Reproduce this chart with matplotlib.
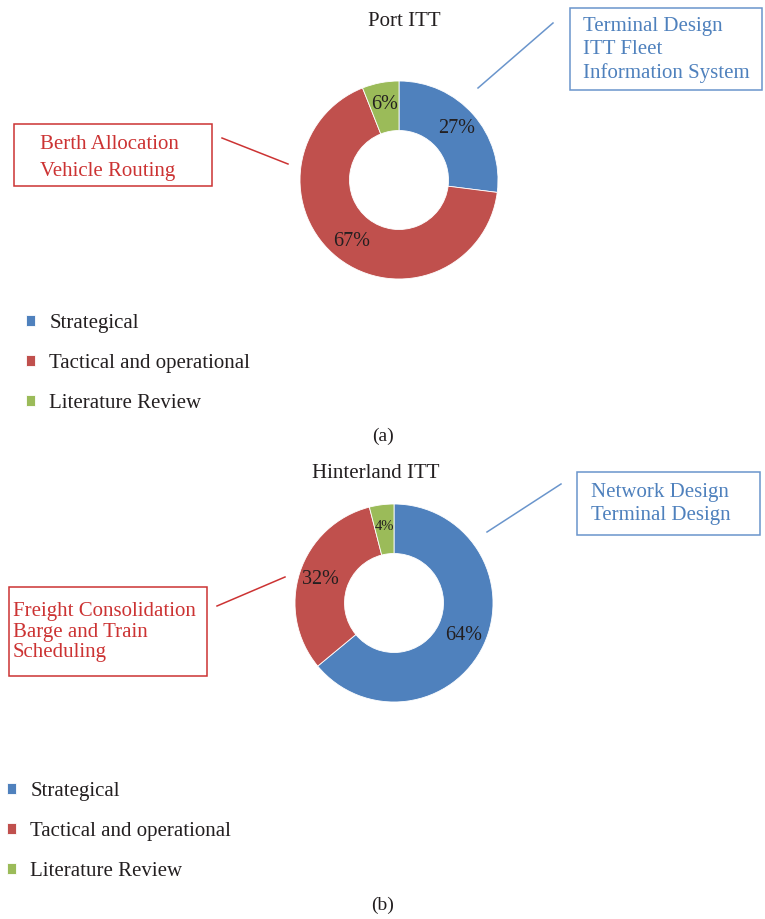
import matplotlib.pyplot as plt
from matplotlib.patches import Rectangle
from matplotlib.lines import Line2D

plt.rcParams['font.family'] = ['Liberation Serif', 'DejaVu Serif']

W, H = 765, 919

categories = ['Strategical', 'Tactical and operational', 'Literature Review']
colors = ['#4F81BD', '#C0504D', '#9BBB59']
port_values = [27, 67, 6]
hinter_values = [64, 32, 4]
port_left_notes = ['Berth Allocation', 'Vehicle Routing']
port_right_notes = ['Terminal Design', 'ITT Fleet', 'Information System']
hinter_left_notes = ['Freight Consolidation', 'Barge and Train', 'Scheduling']
hinter_right_notes = ['Network Design', 'Terminal Design']

RED_TXT = '#CC3333'
BLUE_TXT = '#4F81BD'
DARK = '#231F20'


def fx(x):
    return x / W


def fy(y):
    return 1 - y / H


fig = plt.figure(figsize=(W / 100, H / 100), dpi=100)


def donut(cx, cy, r, values, title, title_xy, small_idx=None):
    ax = fig.add_axes([fx(cx - r), fy(cy + r), 2 * r / W, 2 * r / H])
    wedges, _, autotexts = ax.pie(values, colors=colors, startangle=90, counterclock=False,
                                  autopct='%d%%', pctdistance=0.78,
                                  wedgeprops=dict(width=0.5, edgecolor='white', linewidth=0.6),
                                  textprops=dict(fontsize=14.5, color=DARK))
    if small_idx is not None:
        autotexts[small_idx].set_fontsize(10.5)
    ax.set_xlim(-1, 1)
    ax.set_ylim(-1, 1)
    ax.set_aspect('auto')
    ax.axis('off')
    fig.text(fx(title_xy[0]), fy(title_xy[1]), title, fontsize=15, color=DARK,
             ha='center', va='center')
    return ax, wedges


def callout(box, lines, text_xy, spacing, line_pts, color, edge):
    x0, y0, x1, y1 = box
    fig.add_artist(Rectangle((fx(x0), fy(y1)), (x1 - x0) / W, (y1 - y0) / H,
                             transform=fig.transFigure, fill=False, edgecolor=edge, linewidth=1.1))
    fig.text(fx(text_xy[0]), fy(text_xy[1]), '\n'.join(lines), fontsize=15, color=color,
             ha='left', va='center', linespacing=spacing)
    (ax0, ay0), (ax1, ay1) = line_pts
    fig.add_artist(Line2D([fx(ax0), fx(ax1)], [fy(ay0), fy(ay1)], transform=fig.transFigure,
                          color=edge, linewidth=1.1))


def legend(ax, wedges, x, y):
    ax.legend(wedges, categories, loc='upper left', bbox_to_anchor=(fx(x), fy(y)),
              bbox_transform=fig.transFigure, frameon=False, fontsize=15,
              handlelength=0.42, handleheight=0.42, handletextpad=0.7,
              labelspacing=1.0, borderpad=0, borderaxespad=0, labelcolor=DARK)


# (a) Port ITT
ax_a, w_a = donut(399, 180, 99, port_values, 'Port ITT', (404, 22))
callout((570, 8, 762, 90), port_right_notes, (583, 50), 1.3,
        ((478, 88), (553, 23)), BLUE_TXT, '#6A95CC')
callout((14, 124, 212, 186), port_left_notes, (40, 158), 1.55,
        ((222, 138), (288, 164)), RED_TXT, '#CC3333')
legend(ax_a, w_a, 26, 314)
fig.text(fx(383), fy(436), '(a)', fontsize=14, color=DARK, ha='center', va='center')

# (b) Hinterland ITT
ax_b, w_b = donut(394, 603, 99, hinter_values, 'Hinterland ITT', (376, 474), small_idx=2)
callout((577, 472, 760, 535), hinter_right_notes, (591, 504), 1.33,
        ((487, 532), (561, 484)), BLUE_TXT, '#6A95CC')
callout((9, 587, 207, 676), hinter_left_notes, (13, 632), 1.12,
        ((217, 606), (285, 577)), RED_TXT, '#CC3333')
legend(ax_b, w_b, 7, 782)
fig.text(fx(383), fy(905), '(b)', fontsize=14, color=DARK, ha='center', va='center')

fig.savefig('out.png', dpi=100)
